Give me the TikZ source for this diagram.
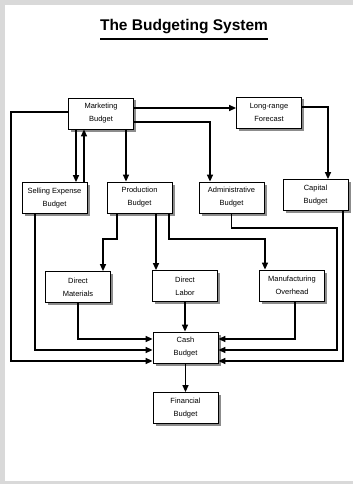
\documentclass[tikz,border=0pt]{standalone}
\usepackage{fontspec}
\setmainfont{Liberation Sans}
\usetikzlibrary{arrows.meta,shadows}

\begin{document}
\begin{tikzpicture}[x=1pt,y=-1pt,
    budget/.style={draw, line width=0.8pt, fill=white, align=center,
        minimum width=65pt, minimum height=31pt, inner sep=1pt,
        font=\fontsize{7.5}{13}\selectfont,
        drop shadow={shadow xshift=2.5pt, shadow yshift=-2.5pt, fill=gray!90, opacity=1}},
    arr/.style={line width=1.4pt, -{Triangle[length=7pt,width=6pt]}}]
    \useasboundingbox (0,0) rectangle (353,484);
    \fill[gray!30] (0,0) rectangle (353,484);
    \fill[white] (5,5) rectangle (353,481);

    \node[font=\bfseries\fontsize{15.5}{18}\selectfont] (title) at (184,27) {The Budgeting System};
    \draw[line width=1.8pt] (100,39) -- (268,39);

    \node[budget] (mkt)  at (101,113.5)   {Marketing\\Budget};
    \node[budget] (lrf)  at (269,112.5)   {Long-range\\Forecast};
    \node[budget] (sel)  at (54.5,198)    {Selling Expense\\Budget};
    \node[budget] (prod) at (139.5,197.5) {Production\\Budget};
    \node[budget] (adm)  at (231.5,197.5) {Administrative\\Budget};
    \node[budget] (cap)  at (315.5,195)   {Capital\\Budget};
    \node[budget] (dm)   at (78,287)      {Direct\\Materials};
    \node[budget] (dl)   at (185,286)     {Direct\\Labor};
    \node[budget] (mo)   at (292,285.5)   {Manufacturing\\Overhead};
    \node[budget] (cash) at (185.5,347.5) {Cash\\Budget};
    \node[budget] (fin)  at (185.5,408)   {Financial\\Budget};

    % top level
    \draw[arr] ([yshift=5.5pt]mkt.east) -- ([yshift=5.5pt]mkt.east -| lrf.west);
    \draw[arr] ([yshift=-8.5pt]mkt.east) -| ([xshift=-21.5pt]adm.north);
    \draw[arr] ([xshift=-13.5pt]prod.north |- mkt.south) -- ([xshift=-13.5pt]prod.north);
    \draw[arr] ([xshift=21.5pt]sel.north |- mkt.south) -- ([xshift=21.5pt]sel.north);
    \draw[arr] ([xshift=29.5pt]sel.north) -- ([xshift=29.5pt]sel.north |- mkt.south);
    \draw[arr] ([yshift=5.5pt]lrf.east) -| ([xshift=12.5pt]cap.north);

    % production
    \draw[arr] ([xshift=-22.5pt]prod.south) -- ++(0,25.5) -| ([xshift=25pt]dm.north);
    \draw[arr] ([xshift=16.5pt]prod.south) -- ([xshift=16.5pt]prod.south |- dl.north);
    \draw[arr] ([xshift=29.5pt]prod.south) -- ++(0,25.5) -| ([xshift=-27pt]mo.north);

    % into cash
    \draw[arr] ([yshift=1.5pt]mkt.west) -- ++(-57,0) |- ([yshift=-13.5pt]cash.west);
    \draw[arr] ([xshift=-19.5pt]sel.south) |- ([yshift=-2.5pt]cash.west);
    \draw[arr] (dm.south) |- ([yshift=8.5pt]cash.west);
    \draw[arr] (dl.south) -- (dl.south |- cash.north);
    \draw[arr] ([xshift=3pt]mo.south) |- ([yshift=8.5pt]cash.east);
    \draw[arr] (adm.south) -- ++(0,14.5) -- ++(105.5,0) |- ([yshift=-2.5pt]cash.east);
    \draw[arr] ([xshift=27.5pt]cap.south) |- ([yshift=-13.5pt]cash.east);
    \draw[arr] (cash.south) -- (fin.north);
\end{tikzpicture}
\end{document}
